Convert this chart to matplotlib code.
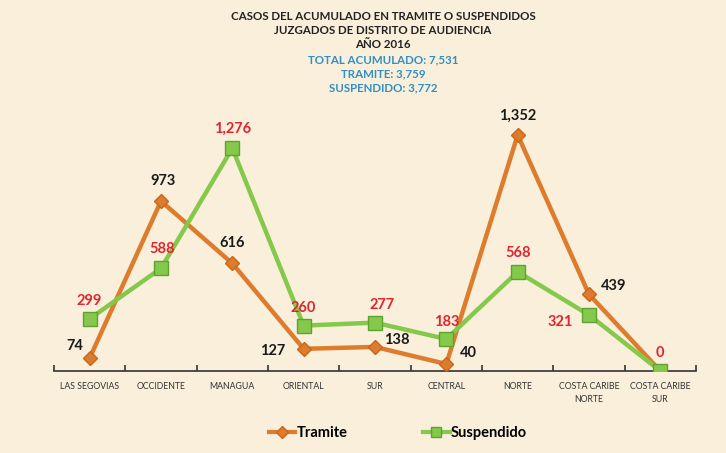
import numpy as np
import matplotlib
matplotlib.use("Agg")
from matplotlib import pyplot as plt
from matplotlib.lines import Line2D

plt.rcParams["font.family"] = ["Lato", "DejaVu Sans"]

categorias = ["LAS SEGOVIAS", "OCCIDENTE", "MANAGUA", "ORIENTAL", "SUR",
              "CENTRAL", "NORTE", "COSTA CARIBE\nNORTE", "COSTA CARIBE\nSUR"]
tramite = [74, 973, 616, 127, 138, 40, 1352, 439, 0]
suspendido = [299, 588, 1276, 260, 277, 183, 568, 321, 0]

titulo = ["CASOS DEL ACUMULADO EN TRAMITE O SUSPENDIDOS",
          "JUZGADOS DE DISTRITO DE AUDIENCIA",
          "AÑO 2016"]
resumen = ["TOTAL ACUMULADO: 7,531", "TRAMITE: 3,759", "SUSPENDIDO: 3,772"]

# label offsets (pixels) for each point
off_tram = [(-15, 12), (2, 20), (0, 20), (-31, -2), (22, 7), (22, 11), (0, 19), (25, 8), None]
off_susp = [(0, 18), (1, 19), (0, 19), (0, 18), (7, 18), (0, 17), (0, 19), (-29, -7), (0, 18)]

bg = "#F9EFDA"
c_orange = "#DD7C2C"
c_green = "#84C94B"

fig = plt.figure(figsize=(7.26, 4.53), dpi=100, facecolor=bg)
ax = fig.add_axes([54 / 726, 1 - 371 / 453, (696 - 54) / 726, (371 - 100) / 453])
ax.set_facecolor("none")

x = np.arange(len(categorias))
ax.plot(x, tramite, color=c_orange, lw=3.2, marker="D", ms=7,
        mfc=c_orange, mec="#C8661E", zorder=3)
ax.plot(x, suspendido, color=c_green, lw=3.2, marker="s", ms=10,
        mfc=c_green, mec="#5FA32E", zorder=4)

for i, v in enumerate(tramite):
    if off_tram[i] is None:
        continue
    ax.annotate(f"{v:,}", (x[i], v), xytext=off_tram[i], textcoords="offset pixels",
                ha="center", va="center", fontsize=10.5, fontweight="bold",
                color="#1a1a1a", zorder=5)
for i, v in enumerate(suspendido):
    ax.annotate(f"{v:,}", (x[i], v), xytext=off_susp[i], textcoords="offset pixels",
                ha="center", va="center", fontsize=10.5, fontweight="bold",
                color="#E02530", zorder=5)

ax.set_xlim(-0.5, len(categorias) - 0.5)
ax.set_ylim(0, 1552)
for s in ["top", "right", "left"]:
    ax.spines[s].set_visible(False)
ax.spines["bottom"].set_color("#333333")
ax.spines["bottom"].set_linewidth(1.2)
ax.spines["bottom"].set_zorder(2)
ax.set_yticks([])
ax.set_xticks(x)
ax.set_xticklabels(categorias, fontsize=6.3, color="#333333", linespacing=1.5)
ax.tick_params(axis="x", which="major", length=0, pad=8)
ax.set_xticks(np.arange(-0.5, len(categorias)), minor=True)
ax.tick_params(axis="x", which="minor", length=4, direction="in", color="#333333", width=1.2)

for i, t in enumerate(titulo):
    fig.text(383 / 726, 1 - (17 + 14 * i) / 453, t, ha="center", va="center",
             fontsize=8.3, fontweight="bold", color="#222222")
for i, t in enumerate(resumen):
    fig.text(383 / 726, 1 - (60 + 14 * i) / 453, t, ha="center", va="center",
             fontsize=8.3, fontweight="bold", color="#2F8FC6")

handles = [Line2D([], [], color=c_orange, lw=3, marker="D", ms=6, mec="#C8661E"),
           Line2D([], [], color=c_green, lw=3, marker="s", ms=7, mec="#5FA32E")]
fig.legend(handles, ["Tramite", "Suspendido"], loc="center", bbox_to_anchor=(398 / 726, 1 - 433 / 453),
           ncol=2, frameon=False, fontsize=10.5, handlelength=1.8, handletextpad=0.1,
           columnspacing=5.2, prop={"size": 10.5, "weight": "bold"})

fig.savefig("out.png", dpi=100, facecolor=bg)
